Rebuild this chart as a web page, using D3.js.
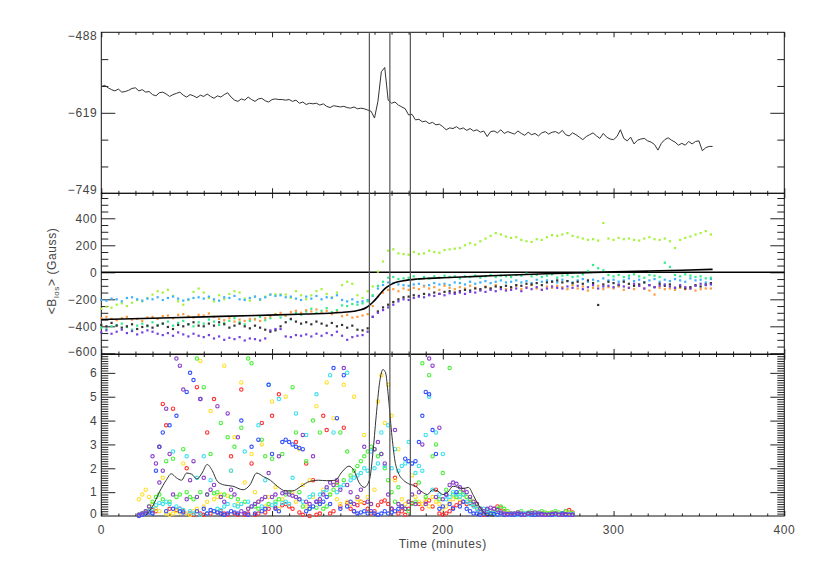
<!DOCTYPE html>
<html><head><meta charset="utf-8">
<script src="https://cdn.jsdelivr.net/npm/d3@7"></script>
<style>body{margin:0;background:#fff}svg{display:block}text{font-family:"Liberation Sans",Arial,sans-serif;letter-spacing:0.6px}</style>
</head><body><svg id="c" width="814" height="581"></svg>
<script>
// ---------------- DATA ----------------
const xTicks = [0, 100, 200, 300, 400];
const topTicks = [-488, -619, -749];
const midTicks = [400, 200, 0, -200, -400, -600];
const botTicks = [0, 1, 2, 3, 4, 5, 6];
const markerTimes = [157, 169, 181];
const xTitle = "Time (minutes)";

// top panel: line, one value every 2 minutes from t=0
const topStart = 0, topStep = 2;
const topValues = [
-576,-574,-578,-581,-583,-580,-585,-584,-582,-579,
-578,-583,-581,-585,-584,-589,-591,-586,-585,-588,
-592,-589,-587,-585,-590,-593,-589,-591,-594,-590,
-592,-588,-592,-595,-591,-593,-589,-586,-593,-598,
-600,-596,-598,-593,-597,-600,-596,-595,-599,-601,
-597,-596,-597,-597,-598,-597,-600,-598,-603,-601,
-605,-603,-604,-603,-606,-604,-608,-610,-607,-608,
-609,-608,-610,-611,-609,-612,-611,-612,-614,-616,
-627,-600,-552,-545,-598,-603,-601,-606,-609,-612,
-622,-621,-630,-629,-633,-632,-636,-634,-638,-637,
-641,-646,-643,-644,-641,-645,-643,-647,-644,-648,
-646,-650,-648,-657,-649,-648,-651,-646,-652,-649,
-651,-653,-648,-652,-655,-650,-654,-652,-656,-651,
-649,-653,-650,-649,-652,-647,-654,-656,-651,-654,
-658,-662,-657,-654,-651,-656,-660,-652,-658,-661,
-662,-657,-646,-660,-664,-658,-669,-663,-661,-660,
-664,-666,-670,-679,-668,-662,-659,-663,-666,-671,
-668,-671,-665,-669,-665,-664,-680,-675,-673,-673];

// middle panel: dots, one value every 3 minutes from t=0
const midStart = 0, midStep = 3;
const limeVals = [
-270,-255,-262,-240,-230,-250,-225,-205,-215,-190,
-165,-140,-150,-130,-175,-215,-240,-205,-145,-120,
-150,-190,-215,-170,-200,-160,-140,-150,-195,-210,
-180,-205,-180,-165,-163,-163,-165,-190,-140,-170,
-200,-170,-140,-125,-160,-185,-150,-95,-70,-85,
-170,-190,-140,-105,5,80,160,170,140,135,
130,150,135,140,160,150,145,165,170,175,
180,200,215,205,230,250,270,290,280,265,
255,260,240,230,225,245,240,260,275,270,
280,290,270,260,250,240,245,235,365,250,
240,255,245,250,240,235,250,260,245,240,
250,230,180,240,255,265,280,290,305,280];
const blueVals = [
-205,-210,-195,-200,-215,-190,-185,-200,-210,-195,
-200,-185,-205,-190,-180,-195,-210,-200,-190,-185,
-195,-180,-200,-210,-185,-190,-175,-200,-205,-190,
-180,-200,-185,-165,-175,-170,-185,-180,-195,-205,
-180,-195,-175,-200,-185,-190,-170,-205,-215,-200,
-220,-215,-205,-175,-120,-94,-75,-80,-90,-95,
-100,-90,-85,-100,-95,-80,-90,-85,-95,-75,
-80,-90,-70,-85,-75,-65,-80,-70,-60,-75,
-70,-60,-75,-65,-80,-55,-70,-60,-65,-75,
-55,-65,-75,-60,-50,-70,-55,-65,-45,-60,
-55,-70,-60,-45,-65,-55,-75,-60,-50,-70,
-55,-65,-50,-60,-70,-45,-60,-55,-75,-50];
const springVals = [
-410,-420,-400,-390,-380,-405,-425,-395,-380,-400,
-370,-390,-380,-365,-395,-375,-360,-385,-400,-370,
-380,-350,-365,-390,-375,-360,-340,-370,-385,-360,
-345,-330,-355,-340,-310,-335,-320,-350,-300,-315,
-290,-270,-300,-285,-265,-295,-280,-245,-250,-235,
-240,-230,-215,-170,-100,-70,-40,-35,-50,-45,
-40,-30,-50,-35,-45,-30,-40,-25,-35,-30,
-45,-30,-35,-25,-40,-30,-20,-35,-25,-30,
-35,-20,-25,-10,-30,-20,-35,-25,-15,-40,
-25,-20,-35,-30,-15,10,54,30,15,-20,
-30,-20,-35,-25,-15,-30,-40,-20,-25,-35,
71,40,-20,-30,-15,-25,-35,-30,-45,-40];
const orangeVals = [
-340,-330,-345,-355,-340,-330,-350,-345,-360,-335,
-330,-345,-325,-320,-340,-315,-310,-325,-335,-315,
-320,-305,-330,-345,-355,-340,-365,-350,-360,-345,
-350,-360,-340,-325,-310,-300,-320,-295,-285,-300,
-280,-290,-275,-300,-285,-310,-295,-325,-315,-335,
-330,-320,-310,-250,-180,-150,-130,-125,-140,-120,
-130,-115,-125,-105,-120,-110,-130,-100,-115,-125,
-110,-120,-100,-115,-130,-105,-120,-95,-110,-125,
-115,-100,-125,-110,-95,-120,-130,-105,-115,-100,
-110,-125,-95,-120,-105,-135,-115,-100,-125,-110,
-120,-105,-130,-115,-125,-100,-120,-135,-165,-115,
-125,-120,-130,-115,-125,-120,-135,-125,-120,-120];
const darkVals = [
-390,-400,-375,-395,-410,-400,-385,-420,-405,-395,
-410,-395,-380,-405,-420,-390,-400,-385,-370,-395,
-400,-380,-395,-370,-385,-410,-395,-380,-400,-415,
-395,-410,-425,-440,-430,-400,-370,-345,-365,-380,
-370,-385,-365,-380,-395,-375,-400,-390,-410,-395,
-425,-430,-415,-330,-290,-260,-240,-220,-200,-185,
-180,-170,-175,-160,-165,-150,-160,-145,-140,-150,
-140,-130,-135,-120,-125,-110,-120,-105,-110,-100,
-110,-95,-100,-85,-90,-80,-95,-75,-70,-60,
-75,-65,-80,-70,-85,-60,-80,-242,-90,-70,
-80,-95,-70,-85,-100,-90,-75,-95,-110,-85,
-100,-90,-115,-105,-120,-110,-95,-105,-90,-80];
const purpleVals = [
-445,-430,-455,-440,-425,-450,-435,-460,-445,-430,
-440,-455,-465,-450,-470,-445,-460,-475,-455,-470,
-480,-465,-490,-475,-500,-485,-495,-480,-505,-490,
-495,-505,-490,-430,-420,-420,-475,-480,-465,-470,
-460,-475,-455,-470,-450,-465,-440,-470,-500,-480,
-470,-465,-440,-330,-300,-280,-260,-240,-215,-200,
-205,-190,-180,-185,-170,-175,-160,-170,-155,-160,
-150,-160,-145,-150,-135,-145,-130,-140,-125,-135,
-130,-120,-140,-115,-125,-110,-130,-120,-105,-115,
-120,-105,-115,-100,-125,-110,-95,-120,-105,-100,
-110,-90,-105,-115,-85,-100,-120,-95,-110,-100,
-90,-105,-115,-95,-110,-120,-100,-85,-95,-90];
const smoothT = [0,30,60,90,120,140,148,152,155,157,159,161,163,165,167,169,171,174,177,180,185,190,200,220,240,260,280,300,320,340,358];
const smoothV = [-350,-340,-330,-320,-309,-298,-288,-278,-262,-245,-222,-195,-165,-135,-112,-95,-82,-70,-62,-56,-50,-46,-40,-30,-20,-11,-4,3,9,15,22];

// bottom panel: open circles, one value every 2 minutes from t=22
const botStart = 22, botStep = 2;
const redVals = [
0.05,0.1,0.15,0.2,0.25,0.2,2.9,4.7,3.8,0.3,
4.5,0.25,0.3,0.2,2.0,0.1,0.05,5.4,0.1,0.05,
3.5,0.1,4.9,0.15,0.2,0.1,0.05,2.5,0.1,0.05,
5.3,0.05,0.1,2.2,0.05,0.1,3.9,0.15,0.3,4.2,
0.35,5.1,0.45,0.5,0.4,0.3,3.1,0.15,0.05,2.2,
0.0,1.5,0.05,0.1,4.2,3.6,0.1,0.2,1.4,0.4,
3.7,0.55,0.3,0.2,0.45,0.6,0.55,0.3,0.1,0.2,
0.45,0.6,0.65,0.5,0.3,1.6,0.1,0.2,0.05,0.3,
0.55,1.3,0.5,0.3,0.6,0.65,0.4,1.1,0.1,0.05,
0.1,0.2,0.35,0.45,0.55,0.6,0.5,0.55,0.45,0.3,
0.15,0.05,0.1,0.2,0.3,0.4,0.35,0.2,0.1,0.05,
0.05,0.1,0.05,0.05,0.08,0.1,0.05,0.05,0.1,0.08,
0.05,0.1,0.05,0.08,0.12,0.2,0.25,0.15];
const yellowVals = [
0.7,0.9,1.1,0.8,0.5,0.3,0.2,1.6,0.1,0.05,
0.1,0.2,0.15,2.2,0.1,0.05,0.2,0.3,6.5,0.4,
0.6,4.4,0.7,0.8,0.9,6.3,0.85,1.9,3.3,0.5,
5.6,1.4,0.3,2.6,1.0,0.6,3.0,0.4,0.8,4.8,
1.2,0.3,0.7,5.0,0.5,1.0,0.6,2.8,1.3,0.4,
1.5,0.8,4.6,0.6,1.1,5.6,0.9,4.1,0.7,0.5,
5.5,0.6,0.5,5.0,0.7,0.6,3.4,0.8,0.5,1.1,
4.8,5.9,3.9,5.5,4.2,1.5,2.8,0.7,0.5,0.6,
1.7,0.8,0.6,0.5,0.7,0.4,0.8,0.6,0.5,0.3,
0.4,0.6,0.7,0.8,0.7,1.0,0.8,0.7,0.6,0.5,
0.3,0.2,0.15,0.1,0.1,0.05,0.1,0.15,0.1,0.05,
0.05,0.1,0.08,0.05,0.1,0.12,0.1,0.05,0.08,0.1,
0.12,0.15,0.1,0.08,0.1,0.15,0.12,0.1];
const greenVals = [
0.05,0.1,0.2,0.4,0.6,0.8,0.9,0.7,2.3,0.6,
2.4,0.8,0.9,2.8,1.0,0.8,0.7,6.6,1.0,5.4,
0.9,2.6,0.95,1.0,3.9,0.9,3.3,0.8,2.9,0.7,
3.7,0.6,6.6,6.4,0.4,0.3,3.2,2.5,0.5,2.4,
0.6,0.7,2.6,0.9,1.0,5.4,3.5,1.0,0.4,2.3,
0.3,4.0,0.35,3.5,0.3,0.4,0.9,1.1,1.3,3.5,
1.5,2.7,1.7,1.9,2.1,2.3,2.5,2.7,2.9,2.8,
2.5,2.6,2.0,1.5,1.0,0.6,1.2,0.4,0.3,0.2,
0.5,0.6,1.4,6.4,0.8,5.9,2.5,3.0,0.7,1.8,
1.1,6.2,0.9,0.8,1.0,0.9,0.8,0.7,0.5,0.4,
0.3,0.2,0.15,0.1,0.15,0.3,0.4,0.3,0.2,0.1,
0.1,0.15,0.2,0.1,0.15,0.2,0.1,0.15,0.2,0.15,
0.1,0.15,0.2,0.15,0.1,0.2,0.15,0.1];
const cyanVals = [
0.05,0.1,0.1,0.2,0.3,0.45,0.55,0.5,0.6,0.5,
2.7,0.4,0.3,0.25,2.5,0.2,0.1,1.6,0.05,2.5,
0.1,1.5,0.2,0.3,0.25,0.4,0.5,1.9,0.45,0.4,
0.5,2.7,0.6,0.4,0.5,3.8,0.4,1.5,5.5,0.45,
0.5,4.9,0.55,0.6,0.5,1.6,4.3,0.7,0.6,3.4,
0.8,0.9,5.1,0.9,1.0,1.1,5.9,3.5,1.0,1.2,
1.3,6.0,1.5,1.6,1.7,1.8,2.0,1.9,2.7,2.0,
2.2,3.5,2.1,3.8,2.0,2.8,1.9,2.1,2.2,3.1,
2.2,1.8,2.1,1.9,3.4,5.0,1.1,3.5,0.9,2.6,
0.7,0.8,1.0,0.9,0.8,0.9,0.6,0.5,0.4,0.3,
0.2,0.3,0.25,0.2,0.1,0.05,0.1,0.08,0.05,0.05,
0.05,0.05,0.08,0.1,0.05,0.05,0.08,0.1,0.05,0.05,
0.05,0.08,0.05,0.05,0.1,0.05,0.05,0.08];
const dblueVals = [
0.0,0.05,0.1,0.15,0.1,1.9,2.9,3.5,0.2,3.8,
0.3,4.2,0.2,0.15,5.2,6.0,5.7,0.2,4.9,0.3,
0.1,0.25,0.2,0.15,0.1,0.05,0.1,0.2,0.15,0.1,
4.0,0.1,0.05,2.9,0.1,3.2,0.2,0.3,5.5,2.6,
0.3,0.2,3.1,3.2,3.1,3.0,2.9,2.85,2.8,0.2,
0.3,0.4,0.6,0.5,0.6,0.8,0.5,6.2,4.1,0.3,
5.9,0.4,0.6,0.2,0.1,0.15,0.2,0.1,0.2,0.1,
0.05,0.1,0.2,0.1,0.15,0.2,0.3,0.4,2.4,2.3,
2.2,2.3,3.1,4.2,5.2,5.1,3.6,2.6,0.3,0.4,
0.9,0.5,0.3,1.0,0.4,0.6,0.3,0.2,0.1,0.1,
0.05,0.1,0.05,0.1,0.08,0.05,0.1,0.05,0.08,0.05,
0.05,0.08,0.05,0.05,0.1,0.05,0.05,0.05,0.08,0.05,
0.05,0.05,0.08,0.05,0.1,0.05,0.05,0.05];
const violetVals = [
0.05,0.1,0.2,0.4,2.5,2.2,1.4,1.9,4.5,2.6,
0.9,6.6,6.3,5.3,0.7,1.5,2.3,0.8,4.9,1.6,
0.9,1.1,1.3,4.6,0.8,0.6,4.3,1.1,0.9,3.3,
0.2,0.1,0.3,0.4,0.5,0.6,0.7,0.8,1.8,0.8,
0.9,2.5,0.95,1.0,0.9,0.85,0.8,0.7,3.4,0.6,
0.5,2.5,0.6,0.7,0.9,1.2,1.4,1.3,1.5,1.1,
6.2,1.3,1.0,0.5,0.8,1.1,2.9,0.6,0.5,2.8,
3.1,2.6,2.2,0.9,0.3,3.6,0.5,0.4,0.3,0.6,
0.9,0.5,1.0,3.0,0.5,6.6,6.3,0.8,3.7,0.7,
0.9,1.3,1.4,1.35,1.2,1.1,1.0,0.8,0.6,0.5,
0.3,0.2,0.3,0.35,0.3,0.25,0.15,0.1,0.05,0.1,
0.1,0.15,0.1,0.05,0.1,0.12,0.15,0.1,0.05,0.05,
0.05,0.08,0.1,0.05,0.05,0.08,0.05,0.05];
const curveT = [26,30,34,38,41,44,47,50,53,56,59,62,65,68,72,77,83,87,91,95,99,103,108,112,117,122,127,132,137,141,145,148,151,154,157,159,161,163,165,166.5,168,170,172,174,177,180,184,188,191,194,197,200,203,206,209,212,215,218,221,224,226,230];
const curveV = [0.02,0.4,1.0,1.5,1.77,1.6,1.5,1.8,1.75,1.55,1.8,2.16,1.9,1.45,1.3,1.25,1.1,1.3,1.8,1.65,1.5,1.25,1.05,1.05,1.25,1.45,1.5,1.48,1.5,1.85,2.09,1.9,1.4,1.2,1.5,2.6,4.2,5.6,6.14,6.0,5.1,3.5,2.3,1.8,1.5,1.35,1.25,1.0,0.9,1.1,1.05,0.9,1.0,1.25,1.2,1.15,1.2,0.85,0.45,0.15,0.02,0];

// ---------------- DRAWING ----------------
const svg = d3.select("#c");
const X0 = 101.3, X1 = 784.3;
const x = d3.scaleLinear().domain([0, 400]).range([X0, X1]);
const P = [
  {y: d3.scaleLinear().domain([-749, -488]).range([193.3, 32.3])},
  {y: d3.scaleLinear().domain([-605, 585]).range([354, 193.3])},
  {y: d3.scaleLinear().domain([0, 6.77]).range([516, 354.5])}
];
const AX = "#222";
const FS = 12, TXT = "#444";

function styleAxis(g){
  g.select(".domain").remove();
  g.selectAll("line").attr("stroke", AX).attr("stroke-width", 1);
  g.selectAll("text").remove();
}
function xAxes(p){
  const [yb, yt] = p.y.range();
  const minor = d3.range(0, 401, 10).filter(v => v % 100);
  svg.append("g").attr("transform", `translate(0,${yt})`).call(d3.axisBottom(x).tickValues(xTicks).tickSize(5)).call(styleAxis);
  svg.append("g").attr("transform", `translate(0,${yt})`).call(d3.axisBottom(x).tickValues(minor).tickSize(2.5)).call(styleAxis);
  svg.append("g").attr("transform", `translate(0,${yb})`).call(d3.axisTop(x).tickValues(xTicks).tickSize(5)).call(styleAxis);
  svg.append("g").attr("transform", `translate(0,${yb})`).call(d3.axisTop(x).tickValues(minor).tickSize(2.5)).call(styleAxis);
}
function yAxes(p, major, minor, labels){
  [[X0, d3.axisRight], [X1, d3.axisLeft]].forEach(([xx, ax]) => {
    svg.append("g").attr("transform", `translate(${xx},0)`).call(ax(p.y).tickValues(major).tickSize(14)).call(styleAxis);
    svg.append("g").attr("transform", `translate(${xx},0)`).call(ax(p.y).tickValues(minor).tickSize(7)).call(styleAxis);
  });
  const [yb, yt] = p.y.range();
  svg.append("g").selectAll("text").data(labels).join("text")
    .attr("x", X0 - 4)
    .attr("y", d => Math.max(yt + 3.2, Math.min(yb - 2.5, p.y(d))))
    .attr("dy", "0.36em").attr("text-anchor", "end")
    .attr("font-size", FS).attr("fill", TXT)
    .text(d => d < 0 ? "\u2212" + Math.abs(d) : d);
}

// top panel ticks
const topAll = d3.range(7).map(k => -749 + k * 43.5);
yAxes(P[0], [-618.5], topAll.filter(v => v !== -618.5 && v !== -749 && v !== -488), []);
svg.append("g").selectAll("text").data(topTicks).join("text")
  .attr("x", X0 - 4).attr("y", d => Math.max(32.3 + 3.2, Math.min(193.3 - 3.3, P[0].y(d))))
  .attr("dy", "0.36em").attr("text-anchor", "end").attr("font-size", FS).attr("fill", TXT)
  .text(d => "\u2212" + Math.abs(d));
// middle
const midMinor = d3.range(-600, 600, 50).filter(v => v % 200 && P[1].y(v) > 193 && P[1].y(v) < 354.5);
yAxes(P[1], midTicks, midMinor, midTicks);
// bottom
const botMinor = d3.range(1, 68).map(k => k / 10).filter(v => Math.abs(v - Math.round(v)) > 1e-6);
yAxes(P[2], botTicks.slice(1), botMinor, botTicks);
P.forEach(xAxes);

// frames
P.forEach(p => {
  const [yb, yt] = p.y.range();
  svg.append("rect").attr("x", X0).attr("y", yt).attr("width", X1 - X0).attr("height", yb - yt)
    .attr("fill", "none").attr("stroke", "#111").attr("stroke-width", 1);
});

// top line
const topT = topValues.map((v, i) => topStart + i * topStep);
svg.append("path").datum(topValues)
  .attr("d", d3.line().x((v, i) => x(topT[i])).y(v => P[0].y(v)))
  .attr("fill", "none").attr("stroke", "#333").attr("stroke-width", 1);

// middle: zero line
svg.append("line").attr("x1", X0).attr("x2", X1).attr("y1", P[1].y(0)).attr("y2", P[1].y(0))
  .attr("stroke", "#000").attr("stroke-width", 1.4);
const midSeries = [
  [limeVals, "#a4f23a"], [blueVals, "#3cb2ff"], [springVals, "#30ec8a"],
  [orangeVals, "#ff9a3a"], [darkVals, "#333"], [purpleVals, "#7440e0"]
];
midSeries.forEach(([vals, col]) => {
  svg.append("g").selectAll("rect").data(vals).join("rect")
    .attr("x", (v, i) => x(midStart + i * midStep) - 1.1)
    .attr("y", v => P[1].y(v) - 1.1)
    .attr("width", 2.2).attr("height", 2.2).attr("fill", col);
});
svg.append("path").datum(smoothT)
  .attr("d", d3.line().curve(d3.curveMonotoneX).x(t => x(t)).y((t, i) => P[1].y(smoothV[i])))
  .attr("fill", "none").attr("stroke", "#000").attr("stroke-width", 1.6);

// bottom: circles
const botSeries = [
  [redVals, "#ff3434"], [yellowVals, "#ffe030"], [greenVals, "#4cf03c"],
  [cyanVals, "#3ee0f0"], [dblueVals, "#3450ff"], [violetVals, "#8a40c8"]
];
botSeries.forEach(([vals, col]) => {
  svg.append("g").selectAll("circle").data(vals).join("circle")
    .attr("cx", (v, i) => x(botStart + i * botStep))
    .attr("cy", v => P[2].y(v))
    .attr("r", 1.7).attr("fill", "none").attr("stroke", col).attr("stroke-width", 1.1);
});
svg.append("path").datum(curveT)
  .attr("d", d3.line().curve(d3.curveMonotoneX).x(t => x(t)).y((t, i) => P[2].y(curveV[i])))
  .attr("fill", "none").attr("stroke", "#333").attr("stroke-width", 1);

// vertical markers
svg.append("g").selectAll("line").data(markerTimes).join("line")
  .attr("x1", d => x(d)).attr("x2", d => x(d)).attr("y1", 32.3).attr("y2", 516)
  .attr("stroke", "#555").attr("stroke-width", 1.2);

// x labels
svg.append("g").selectAll("text").data(xTicks).join("text")
  .attr("x", d => x(d)).attr("y", 534).attr("text-anchor", "middle")
  .attr("font-size", FS).attr("fill", TXT).text(d => d);
svg.append("text").attr("x", (X0 + X1) / 2).attr("y", 548).attr("text-anchor", "middle")
  .attr("font-size", FS).attr("fill", TXT).text(xTitle);

// y label
const yl = svg.append("text").attr("transform", "translate(56,271) rotate(-90)")
  .attr("text-anchor", "middle").attr("font-size", FS).attr("fill", TXT);
yl.append("tspan").text("<B");
yl.append("tspan").attr("font-size", 8).attr("dy", 3).text("los");
yl.append("tspan").attr("dy", -3).text(">  (Gauss)");
</script></body></html>
